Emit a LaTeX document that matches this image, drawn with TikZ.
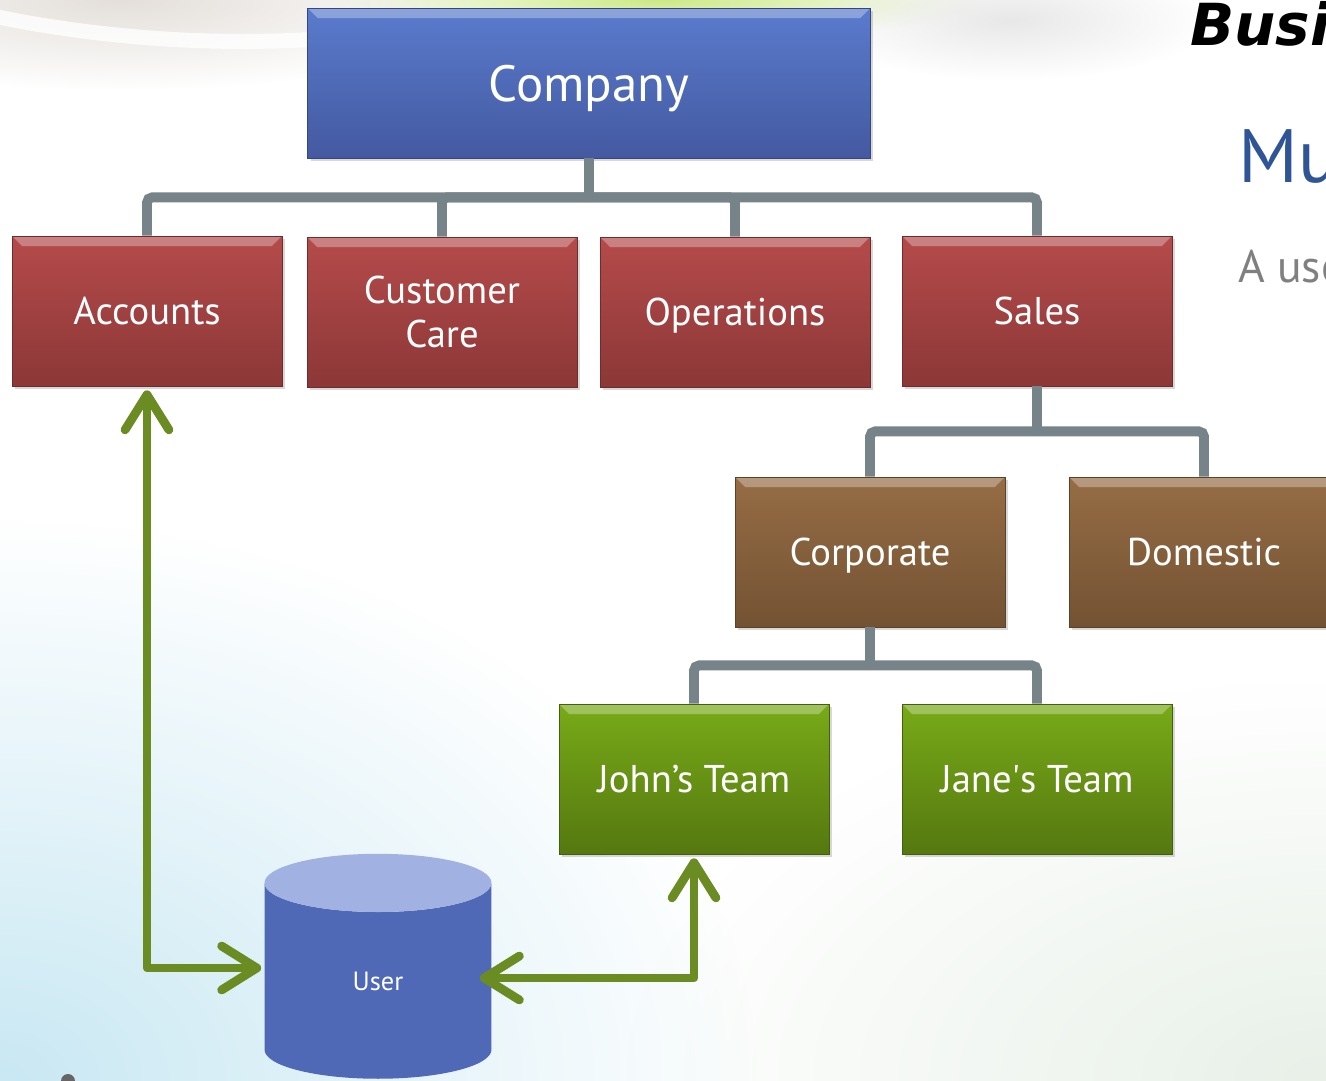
\documentclass[tikz,border=0pt]{standalone}
\usepackage{fontspec}
\setmainfont{PT Sans}
\newfontfamily\bannerfont{DejaVu Sans}
\usetikzlibrary{arrows.meta,shapes.geometric,shadows,fadings}

\definecolor{bluetop}{HTML}{5A7BCD}
\definecolor{bluebot}{HTML}{4459A0}
\definecolor{redtop}{HTML}{B54B4B}
\definecolor{redbot}{HTML}{8C3737}
\definecolor{browntop}{HTML}{966D45}
\definecolor{brownbot}{HTML}{735233}
\definecolor{greentop}{HTML}{78AA18}
\definecolor{greenbot}{HTML}{557810}
\definecolor{linegray}{HTML}{76848A}
\definecolor{linkgreen}{HTML}{6A8C22}
\definecolor{userbody}{HTML}{4F69B6}
\definecolor{usertop}{HTML}{A1B1E2}
\definecolor{titleblue}{HTML}{2F5597}
\definecolor{bgblue}{HTML}{C9E8F3}

\tikzfading[name=fade out, inner color=transparent!0, outer color=transparent!100]

\tikzset{
  unit/.style={rectangle, inner sep=0pt, minimum width=5.4cm, minimum height=3cm,
    align=center, text=white, font=\fontsize{22}{25.5}\selectfont,
    drop shadow={opacity=0.3, shadow xshift=0.06cm, shadow yshift=-0.06cm},
    path picture={\fill[white,opacity=0.3] (path picture bounding box.north west)
      -- (path picture bounding box.north east)
      -- ([xshift=-0.2cm,yshift=-0.2cm]path picture bounding box.north east)
      -- ([xshift=0.2cm,yshift=-0.2cm]path picture bounding box.north west) -- cycle;}},
  topunit/.style={unit, top color=bluetop, bottom color=bluebot, draw=bluebot!80!black},
  dept/.style={unit, top color=redtop, bottom color=redbot, draw=redbot!80!black},
  region/.style={unit, top color=browntop, bottom color=brownbot, draw=brownbot!80!black},
  team/.style={unit, top color=greentop, bottom color=greenbot, draw=greenbot!80!black},
  orgline/.style={draw=linegray, line width=5.6pt, rounded corners=3pt},
  userlink/.style={draw=linkgreen, line width=5pt, line join=round,
    {Straight Barb[length=20pt,width=25pt,round]}-{Straight Barb[length=20pt,width=25pt,round]}},
  slidetext/.style={anchor=base west, inner sep=0pt}
}

\begin{document}
\begin{tikzpicture}[x=0.02cm, y=-0.02cm]
\useasboundingbox (0,0) rectangle (1326,1081);
\clip (0,0) rectangle (1326,1081);

% slide background
\fill[white] (0,0) rectangle (1326,1081);
\fill[bgblue, path fading=fade out] (0,1081) ellipse (760 and 560);
\fill[green!20!gray!15, path fading=fade out] (1326,1081) ellipse (700 and 400);
\fill[brown!30!gray!25, path fading=fade out] (120,0) ellipse (380 and 90);
\fill[white, opacity=0.8] (0,10) .. controls (150,40) and (300,40) .. (420,20) -- (420,35) .. controls (300,55) and (150,55) .. (0,25) -- cycle;
\fill[yellow!60!green!50, path fading=fade out] (660,0) ellipse (330 and 40);
\fill[gray!18, path fading=fade out] (1010,20) ellipse (200 and 60);
\fill[gray!80!black] (68,1081) circle (0.14cm);

\node[slidetext, font=\fontsize{33}{33}\bannerfont\bfseries\itshape] (busi) at (1190,46) {Busi};
\node[slidetext, text=titleblue, font=\fontsize{43}{43}\selectfont] (mu) at (1238,183) {Mu};
\node[slidetext, text=gray, font=\fontsize{26}{26}\selectfont] (ause) at (1238,283) {A use};

\node[topunit, minimum width=11.26cm, text depth=0pt, font=\fontsize{29}{29}\selectfont] (company) at (589,83) {Company};
\node[dept] (accounts) at (147,311) {Accounts};
\node[dept] (care) at (442,312) {Customer\\Care};
\node[dept, text depth=0pt] (ops) at (735,312) {Operations};
\node[dept] (sales) at (1037,311) {Sales};
\node[region, text depth=0pt] (corporate) at (870,552) {Corporate};
\node[region] (domestic) at (1204,552) {Domestic};
\node[team] (john) at (694,779) {John’s Team};
\node[team] (jane) at (1037,779) {Jane\textquotesingle s Team};
\node[cylinder, shape border rotate=90, aspect=1.15, minimum width=4.54cm,
  minimum height=4.5cm, inner sep=0pt, cylinder uses custom fill,
  cylinder body fill=userbody, cylinder end fill=usertop, text=white,
  font=\fontsize{15}{15}\selectfont] (user) at (378,981) {User};

% org lines
\draw[orgline] (company.south) -- ++(0,39) coordinate (bus);
\foreach \n in {accounts,care,ops,sales}
  \draw[orgline] (bus) -| (\n.north);
\draw[orgline] (sales.south) -- ++(0,45) coordinate (salesbus);
\foreach \n in {corporate,domestic}
  \draw[orgline] (salesbus) -| (\n.north);
\draw[orgline] (corporate.south) -- ++(0,38) coordinate (corpbus);
\foreach \n in {john,jane}
  \draw[orgline] (corpbus) -| (\n.north);

% user links
\draw[userlink] ([yshift=-0.08cm]accounts.south) |- ([xshift=-0.06cm,yshift=0.26cm]user.west);
\draw[userlink] ([xshift=-0.24cm,yshift=0.06cm]user.east) -| ([yshift=-0.08cm]john.south);
\end{tikzpicture}
\end{document}
